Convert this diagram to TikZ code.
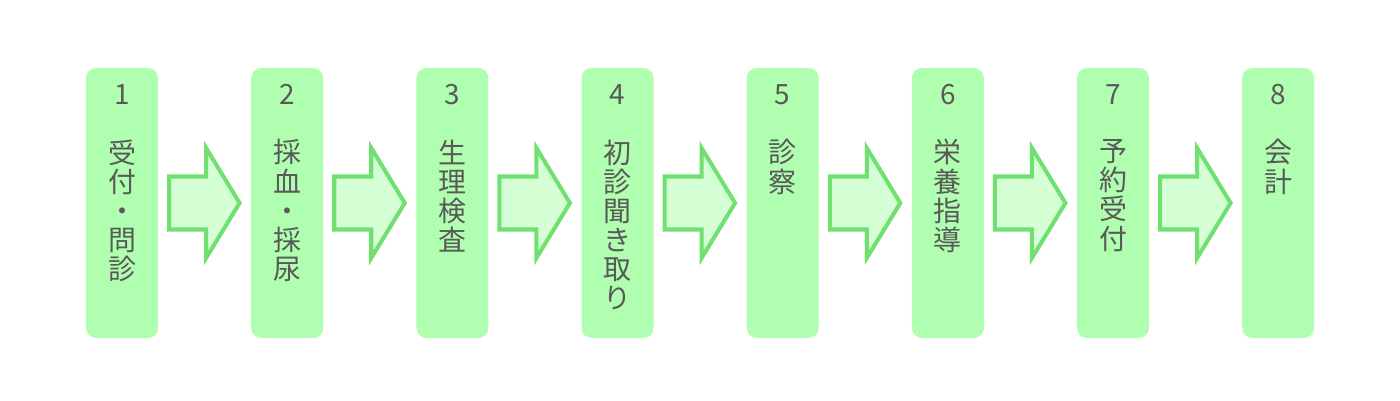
\documentclass[tikz,border=0pt]{standalone}
\usepackage{fontspec}
\newfontfamily\jpfont{Noto Sans CJK JP}
\usetikzlibrary{positioning}
\usetikzlibrary{calc}
\definecolor{stepfill}{HTML}{B0FFB0}
\definecolor{arrowfill}{HTML}{D5FFD5}
\definecolor{arrowline}{HTML}{70E070}
\definecolor{textgray}{HTML}{595959}

\tikzset{
    stepbox/.style={fill=stepfill, rounded corners=0.2cm, minimum width=1.44cm, minimum height=5.4cm, inner sep=0pt},
    steptext/.style={text=textgray, inner sep=0pt, align=center, font=\jpfont\fontsize{15.9pt}{16.6pt}\selectfont},
    flowarrow/.pic={
        \draw[draw=arrowline, fill=arrowfill, line width=2.3pt, line join=miter]
            (-35.5,-26.5) -- (1.5,-26.5) -- (1.5,-55) -- (35,0) -- (1.5,55) -- (1.5,26.5) -- (-35.5,26.5) -- cycle;
    }
}

\begin{document}
\begin{tikzpicture}[x=0.02cm, y=-0.02cm]
    \useasboundingbox (0,0) rectangle (1400,400);

    \node[stepbox] (box1) at (122,203) {};
    \foreach \i [count=\prev from 1] in {2,...,8}
        \node[stepbox, right=1.85cm of box\prev] (box\i) {};

    % numbers and labels
    \foreach \i/\lbl in {1/{受\\付\\・\\問\\診}, 2/{採\\血\\・\\採\\尿}, 3/{生\\理\\検\\査},
                         4/{初\\診\\聞\\き\\取\\り}, 5/{診\\察}, 6/{栄\\養\\指\\導},
                         7/{予\\約\\受\\付}, 8/{会\\計}} {
        \node[steptext, anchor=base] (num\i) at ($(box\i.north)+(0,37)$) {\i};
        \node[steptext, anchor=north] (lbl\i) at ($(box\i.north)+(0,71.5)$) {\lbl};
    }

    \foreach \i [count=\nxt from 2] in {1,...,7} {
        \coordinate (mid\i) at ($(box\i.east)!0.5!(box\nxt.west)$);
        \pic at (mid\i) {flowarrow};
    }
\end{tikzpicture}
\end{document}
